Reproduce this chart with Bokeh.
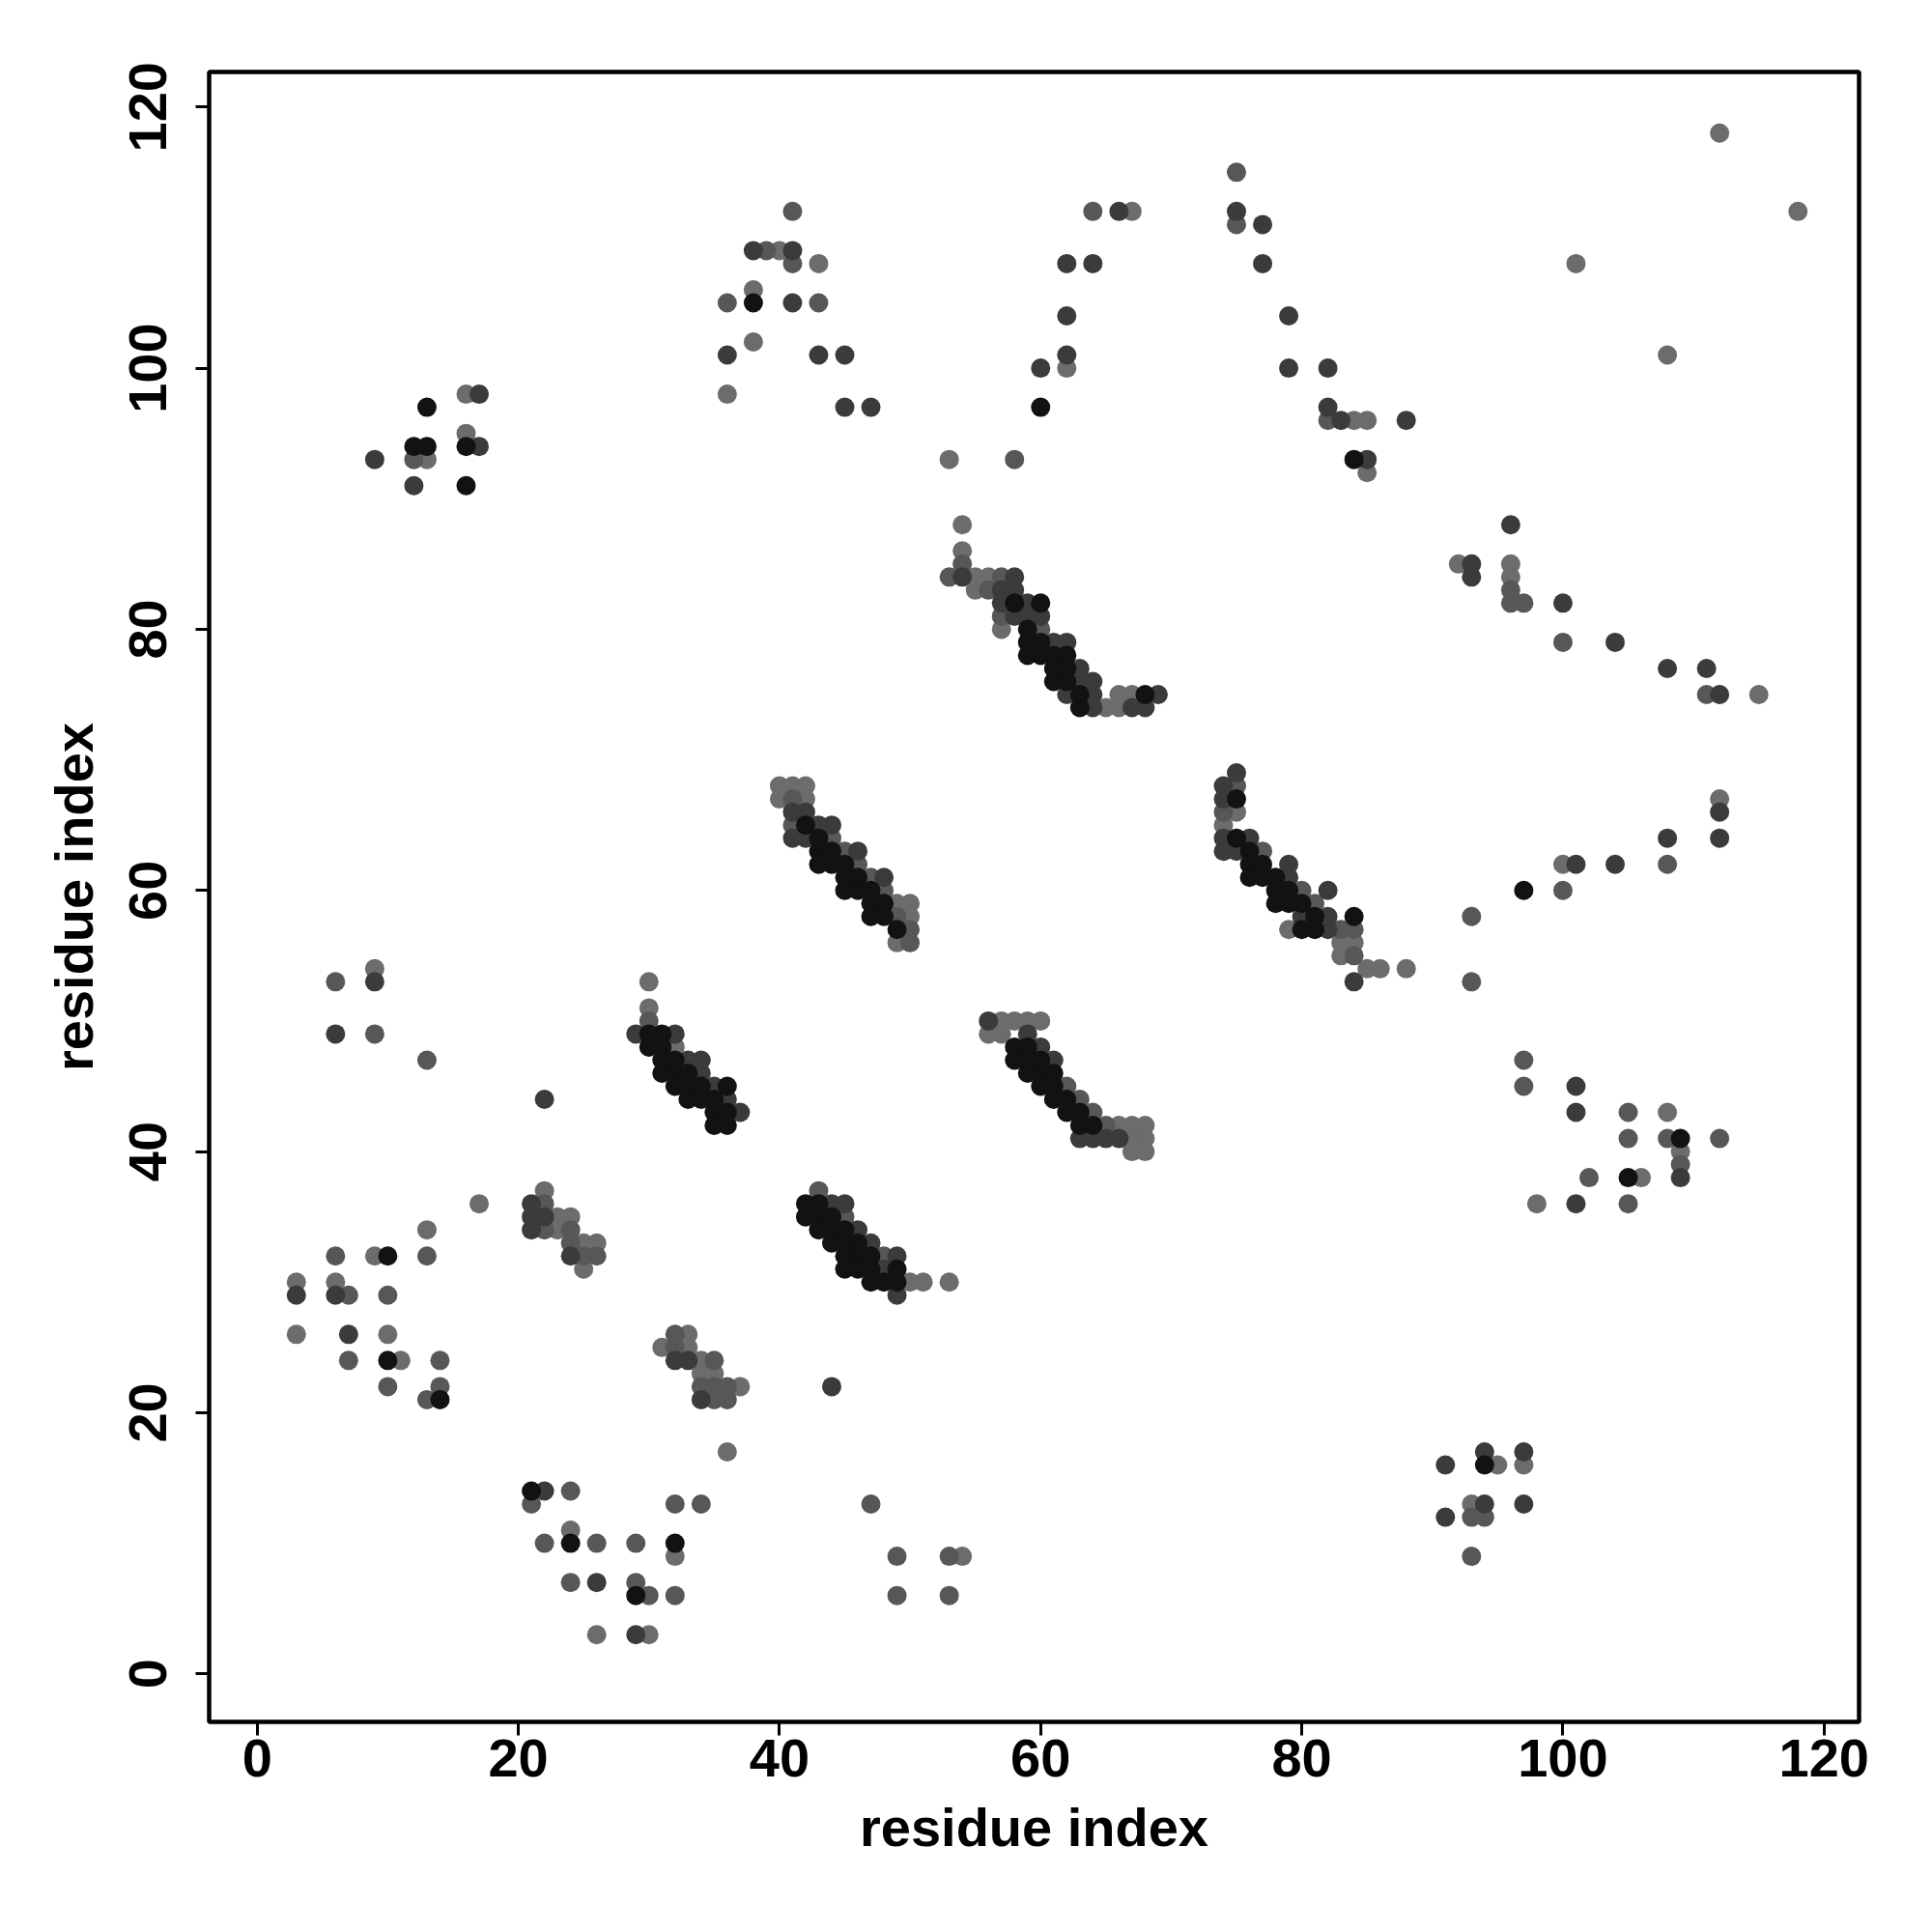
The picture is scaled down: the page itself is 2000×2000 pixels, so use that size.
from bokeh.plotting import figure
from bokeh.models import Range1d, FixedTicker, ColumnDataSource
from bokeh.embed import file_html
from bokeh.resources import INLINE

# contact map points (residue i, residue j), grouped by grey level
shade_light = [
    (3,30),(3,26),(6,30),(9,32),(10,26),(11,24),(13,34),(17,36),(13,93),(16,98),(16,95),
    (22,37),(23,35),(23,34),(24,35),(25,33),(25,31),(26,33),(24,11),(26,3),(30,3),(32,9),
    (31,25),(33,26),(33,25),(34,24),(34,23),(35,23),(37,22),(36,17),(9,54),
    (30,53),(30,51),(32,48),(40,109),(43,108),(38,106),(38,102),(36,98),
    (40,68),(41,68),(42,68),(40,67),(42,67),(49,59),(50,59),(50,58),(49,56),
    (50,30),(51,30),(53,30),(54,9),(53,93),(62,100),(67,112),
    (54,88),(54,86),(55,84),(56,84),(55,83),(57,80),(66,75),(67,75),(65,74),(66,74),
    (57,50),(58,50),(59,50),(60,50),(56,49),(57,49),(66,42),(67,42),(68,42),(67,41),(68,41),(67,40),(68,40),
    (75,66),(74,65),(79,57),(83,56),(84,56),(83,55),(85,54),(86,54),(88,54),
    (84,96),(85,96),(85,92),(92,85),(96,85),(96,84),(115,75),(112,67),(100,62),
    (108,43),(109,40),(106,38),(98,36),(93,13),(95,16),(97,16),
    (112,118),(118,112),(101,108),(108,101),
]
shade_mid = [
    (6,32),(7,29),(7,24),(10,29),(10,22),(13,32),(13,21),(14,24),(14,22),
    (6,53),(9,49),(13,47),(12,93),
    (22,36),(22,34),(24,34),(24,33),(25,32),(26,32),
    (21,13),(22,10),(24,14),(24,7),(26,10),(29,10),(29,7),(30,6),(32,13),(32,6),(34,13),
    (32,26),(32,25),(35,24),(34,22),(35,22),(36,22),(35,21),(36,21),
    (30,50),(41,112),(39,109),(41,108),(36,105),(43,105),
    (41,67),(41,65),(44,64),(45,63),(46,62),(47,61),(48,60),(49,58),(50,57),(50,56),
    (43,37),(45,35),(48,32),(47,13),(49,9),(49,6),(53,9),(53,6),(58,93),(64,112),
    (53,84),(57,84),(56,83),(57,81),(60,80),(54,85),
    (62,45),(63,44),(64,43),(65,42),
    (74,66),(75,68),(77,63),(80,60),(81,59),(83,57),(84,57),(84,55),
    (75,115),(75,111),(82,96),
    (96,83),(96,82),(97,82),(100,79),(111,75),(108,62),(100,60),(93,58),(93,53),
    (97,47),(97,45),(105,43),(105,41),(108,41),(112,41),(109,39),(102,38),(105,36),
    (93,12),(93,9),(94,12),
]
shade_dark = [
    (3,29),(6,29),(7,26),(6,49),(9,53),(9,93),(12,91),(17,98),(17,94),
    (21,36),(21,35),(21,34),(22,44),(22,14),(26,7),(29,3),(32,24),(33,24),(34,21),(24,32),(22,35),
    (29,49),(32,49),(33,47),(34,47),(34,46),(35,45),(36,44),(37,43),
    (38,109),(41,109),(41,105),(36,101),(43,101),(45,101),(45,97),(47,97),
    (41,66),(42,66),(43,65),(44,65),(41,64),(42,64),(46,63),(48,61),
    (44,36),(45,36),(46,34),(47,33),(48,31),(49,29),(49,32),(44,22),
    (60,100),(62,101),(62,104),(62,108),(64,108),(66,112),
    (54,84),(58,84),(57,83),(58,83),(57,82),(59,82),(58,81),(59,81),(60,81),
    (61,79),(62,79),(63,77),(63,76),(64,76),(62,75),(64,75),(69,75),(64,74),(67,74),(68,74),
    (56,50),(59,49),(60,48),(61,47),(63,41),(64,41),(65,41),(66,41),
    (75,69),(74,68),(74,67),(74,64),(76,64),(74,63),(75,63),(79,62),(79,61),(82,60),
    (80,58),(82,58),(82,57),(84,53),
    (75,112),(77,111),(77,108),(79,104),(79,100),(82,100),(82,97),(83,96),(85,93),(88,96),
    (93,85),(93,84),(96,88),(100,82),(104,79),(108,77),(111,77),(112,75),
    (112,66),(112,64),(108,64),(101,62),(104,62),
    (101,45),(101,43),(109,38),(101,36),
    (91,16),(91,12),(94,17),(94,13),(97,17),(97,13),
]
shade_black = [
    (10,32),(10,24),(14,21),(12,94),(13,97),(13,94),(16,94),(16,91),
    (21,14),(24,10),(29,6),(32,10),(31,49),
    (30,49),(30,48),(31,48),(31,47),(32,47),(31,46),(32,46),(33,46),(32,45),(33,45),(34,45),
    (36,45),(33,44),(34,44),(35,44),(35,43),(36,43),(35,42),(36,42),
    (38,105),(60,97),
    (42,65),(43,64),(43,63),(44,63),(43,62),(44,62),(45,62),(45,61),(46,61),
    (45,60),(46,60),(47,60),(47,59),(48,59),(47,58),(48,58),(49,57),
    (42,36),(43,36),(42,35),(43,35),(44,35),(43,34),(44,34),(45,34),(44,33),(45,33),(46,33),
    (45,32),(46,32),(47,32),(45,31),(46,31),(47,31),(49,31),(47,30),(48,30),(49,30),
    (58,82),(60,82),(59,80),(59,79),(60,79),(59,78),(60,78),(61,78),(62,78),
    (61,77),(62,77),(61,76),(62,76),(63,75),(68,75),(63,74),
    (58,48),(59,48),(58,47),(59,47),(60,47),(59,46),(60,46),(61,46),(60,45),(61,45),
    (61,44),(62,44),(62,43),(63,43),(63,42),(64,42),
    (75,67),(75,64),(76,63),(76,62),(77,62),(76,61),(77,61),(78,61),(78,60),(79,60),
    (78,59),(79,59),(80,59),(81,58),(84,58),(80,57),(81,57),
    (84,93),(97,60),(109,41),(105,38),(94,16),
]

groups = [
    (shade_light, "#6c6c6c"),
    (shade_mid, "#575757"),
    (shade_dark, "#3b3b3b"),
    (shade_black, "#121212"),
]

p = figure(width=1968, height=1974, output_backend="svg", toolbar_location=None,
           x_range=Range1d(-3.68, 122.68), y_range=Range1d(-3.68, 122.68),
           min_border_left=216, min_border_right=44, min_border_top=74, min_border_bottom=192)

for pts, col in groups:
    src = ColumnDataSource(dict(x=[a for a, b in pts], y=[b for a, b in pts]))
    p.scatter("x", "y", source=src, size=20, fill_color=col, line_color=None)

p.grid.visible = False
p.outline_line_color = "black"
p.outline_line_width = 4.5
p.background_fill_color = "white"
p.border_fill_color = "white"

ticks = [0, 20, 40, 60, 80, 100, 120]
for ax in (p.xaxis[0], p.yaxis[0]):
    ax.ticker = FixedTicker(ticks=ticks)
    ax.minor_tick_line_color = None
    ax.axis_line_color = None
    ax.major_tick_line_color = "black"
    ax.major_tick_line_width = 3
    ax.major_tick_out = 14
    ax.major_tick_in = 0
    ax.major_label_text_font = "Liberation Sans"
    ax.major_label_text_font_style = "bold"
    ax.major_label_text_font_size = "56px"
    ax.major_label_text_color = "black"
    ax.axis_label = "residue index"
    ax.axis_label_text_font = "Liberation Sans"
    ax.axis_label_text_font_style = "bold"
    ax.axis_label_text_font_size = "56px"
    ax.axis_label_text_color = "black"

p.xaxis[0].major_label_standoff = 4
p.xaxis[0].axis_label_standoff = 18
p.yaxis[0].major_label_orientation = "vertical"
p.yaxis[0].major_label_standoff = 30
p.yaxis[0].axis_label_standoff = 24

open("out.html", "w").write(file_html(p, INLINE))
